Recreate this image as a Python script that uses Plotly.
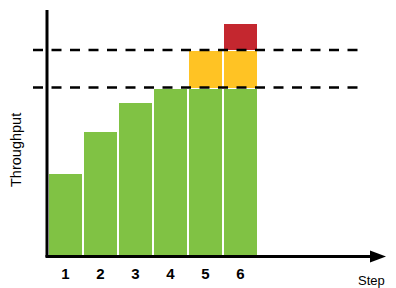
import plotly.graph_objects as go

steps = [1, 2, 3, 4, 5, 6]
step_labels = ["1", "2", "3", "4", "5", "6"]
green_vals = [84, 126, 155, 169, 169, 169]
yellow_vals = [0, 0, 0, 0, 38, 38]
red_vals = [0, 0, 0, 0, 0, 27]
thresholds = [169.5, 207]

GREEN = "#80C244"
YELLOW = "#FFC324"
RED = "#C4272F"
FONT = "Liberation Sans, Arial, sans-serif"

# page body adds an 8px margin; work in reference pixel coords and shift
OFF = 8
W, H = 396 - OFF, 288 - OFF
L, R, T, B = 47 - OFF, 11, 10 - OFF, 288 - 257
pw, ph = W - L - R, H - T - B

def px(xp):
    return (xp - OFF - L) / pw

def py(yp):
    return (H - B - (yp - OFF)) / ph

fig = go.Figure()
for vals, col in [(green_vals, GREEN), (yellow_vals, YELLOW), (red_vals, RED)]:
    fig.add_trace(go.Bar(
        x=steps, y=vals, marker=dict(color=col, line=dict(color="white", width=1)),
        showlegend=False, hoverinfo="skip"))

shapes = []
for th in thresholds:
    shapes.append(dict(type="line", xref="paper", yref="y", x0=px(33), x1=px(358), y0=th, y1=th,
                       line=dict(color="black", width=2.5, dash="10px,8.5px"), layer="above"))
# axes
shapes.append(dict(type="line", xref="paper", yref="paper", x0=0, x1=0, y0=py(257), y1=1,
                   line=dict(color="black", width=3), layer="above"))
shapes.append(dict(type="line", xref="paper", yref="paper", x0=px(45.5), x1=px(374), y0=py(256.5), y1=py(256.5),
                   line=dict(color="black", width=3), layer="above"))
tip = (px(386), py(256.5))
b1 = (px(370), py(250.5))
b2 = (px(370), py(262.5))
shapes.append(dict(type="path", xref="paper", yref="paper",
                   path=f"M {tip[0]},{tip[1]} L {b1[0]},{b1[1]} L {b2[0]},{b2[1]} Z",
                   fillcolor="black", line=dict(color="black", width=0), layer="above"))

fig.update_layout(
    width=W, height=H, margin=dict(l=L, r=R, t=T, b=B),
    barmode="stack", bargap=0.03,
    plot_bgcolor="white", paper_bgcolor="white",
    xaxis=dict(range=[0.471, 10.129], tickvals=steps, ticktext=step_labels, showgrid=False,
               zeroline=False, showline=False, ticks="", ticklabelstandoff=6,
               tickfont=dict(family=FONT, size=15, color="black", weight="bold")),
    yaxis=dict(range=[0, 247], showgrid=False, zeroline=False, showline=False,
               showticklabels=False, ticks=""),
    shapes=shapes,
    annotations=[
        dict(text="Step", xref="paper", yref="paper", x=px(387), y=py(280.5), showarrow=False,
             xanchor="right", yanchor="middle", font=dict(family=FONT, size=13, color="black")),
        dict(text="Throughput", xref="paper", yref="paper", x=px(16), y=py(150), showarrow=False,
             textangle=-90, xanchor="center", yanchor="middle",
             font=dict(family=FONT, size=14.5, color="black")),
    ],
)

fig.write_html("out.html")
